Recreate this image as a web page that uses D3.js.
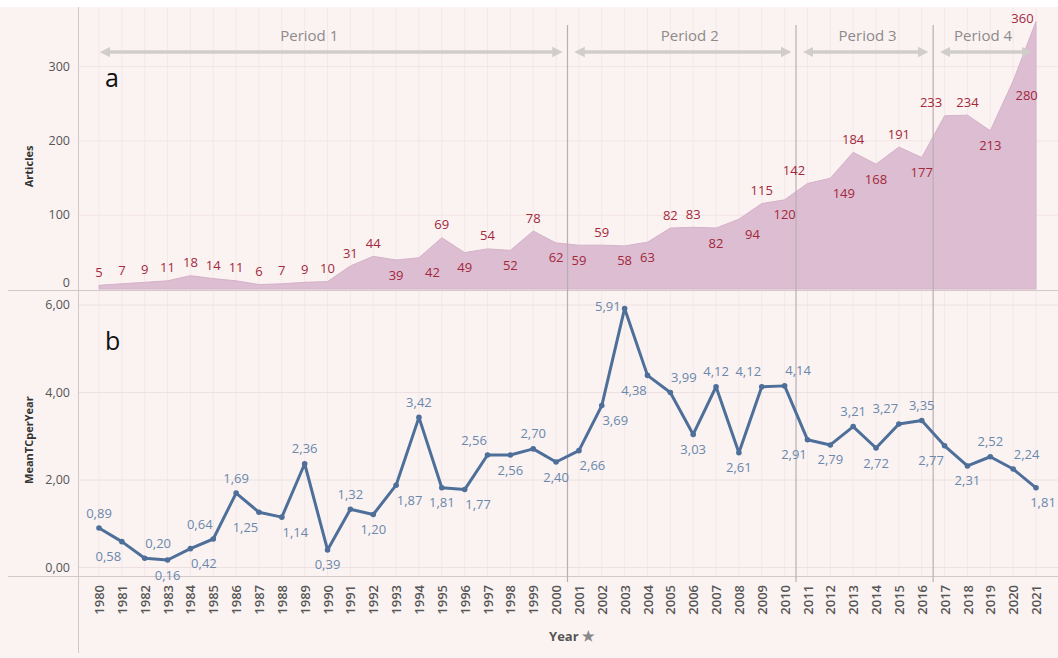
<!DOCTYPE html>
<html>
<head>
<meta charset="utf-8">
<script src="https://cdn.jsdelivr.net/npm/d3@7"></script>
<style>
  html, body { margin: 0; padding: 0; background: #ffffff; }
  svg { display: block; }
  text { font-family: "Open Sans", "Noto Sans", sans-serif; }
</style>
</head>
<body>
<svg id="chart" width="1058" height="658"></svg>
<script>
// ---------- DATA ----------
const years = d3.range(1980, 2022);
const articles = [5, 7, 9, 11, 18, 14, 11, 6, 7, 9, 10, 31, 44, 39, 42, 69, 49, 54, 52, 78, 62,
  59, 59, 58, 63, 82, 83, 82, 94, 115, 120, 142, 149, 184, 168, 191, 177, 233, 234, 213, 280, 360];
// label placement: A = above, B = below, optional L/R = nudged left/right
const articlesLabelSide = ["A","A","A","A","A","A","A","A","A","A","A","A","A","B","BR","A","B","A","B","A","B",
  "B","A","B","B","A","A","B","BR","A","B","AL","BR","A","B","A","B","AL","A","B","BR","AL"];
const meanTC = [0.89, 0.58, 0.20, 0.16, 0.42, 0.64, 1.69, 1.25, 1.14, 2.36, 0.39, 1.32, 1.20, 1.87, 3.42, 1.81, 1.77, 2.56, 2.56, 2.70, 2.40,
  2.66, 3.69, 5.91, 4.38, 3.99, 3.03, 4.12, 2.61, 4.12, 4.14, 2.91, 2.79, 3.21, 2.72, 3.27, 3.35, 2.77, 2.31, 2.52, 2.24, 1.81];
const meanTCLabelSide = ["A","BL","AR","B","BR","AL","A","BL","BR","A","B","A","B","BR","A","B","BR","AL","B","A","B",
  "BR","BR","L","BL","AR","B","A","B","AL","AR","BL","B","A","B","AL","A","BL","B","A","AR","BR"];
const articlesTicks = [0, 100, 200, 300];
const meanTCTicks = [0, 2, 4, 6];
const periods = ["Period 1", "Period 2", "Period 3", "Period 4"];
const periodStarts = [1980, 2001, 2011, 2017];
const periodEnds = [2000, 2010, 2016, 2021];

// ---------- LAYOUT ----------
const svg = d3.select("#chart");
const W = 1058, H = 658;
const bg = "#FBF3F2";
const comma = d3.formatLocale({decimal: ",", thousands: ".", grouping: [3], currency: ["", ""]}).format(".2f");
const nudge = 13.5;
const periodLabelDx = [-21, 8, 3, -2];

svg.append("rect").attr("x", 0).attr("y", 7).attr("width", W).attr("height", H - 7).attr("fill", bg);

const x = d3.scalePoint().domain(years).range([99, 1036]);
const step = x.step();
const yTop = d3.scaleLinear().domain([0, 360]).range([289, 21.5]);
const yBot = d3.scaleLinear().domain([0, 6]).range([567, 304.5]);

function dxOf(side) {
  if (side.length === 2) return side[1] === "L" ? -nudge : nudge;
  return 0;
}

// vertical faint gridlines per year
svg.append("g").selectAll("line").data(years).join("line")
  .attr("x1", d => x(d)).attr("x2", d => x(d))
  .attr("y1", 7).attr("y2", 578)
  .attr("stroke", "#F4E7E7").attr("stroke-width", 1);

// horizontal faint gridlines
svg.append("g").selectAll("line").data(articlesTicks.slice(1)).join("line")
  .attr("x1", 79).attr("x2", W).attr("y1", d => yTop(d) + 0.5).attr("y2", d => yTop(d) + 0.5)
  .attr("stroke", "#F1E4E4");
svg.append("g").selectAll("line").data(meanTCTicks).join("line")
  .attr("x1", 79).attr("x2", W).attr("y1", d => yBot(d) + 0.5).attr("y2", d => yBot(d) + 0.5)
  .attr("stroke", "#EDE0E0");

// ---------- PANEL A: area ----------
const area = d3.area()
  .x((d, i) => x(years[i]))
  .y0(yTop(0))
  .y1(d => yTop(d));
svg.append("path").datum(articles).attr("d", area)
  .attr("fill", "#DCBDD2").attr("stroke", "#D5B2C9").attr("stroke-width", 1);

// Panel separators & axis lines
svg.append("line").attr("x1", 8).attr("x2", W).attr("y1", 290.5).attr("y2", 290.5).attr("stroke", "#D3C8C8");
svg.append("line").attr("x1", 8).attr("x2", W).attr("y1", 576.5).attr("y2", 576.5).attr("stroke", "#D3C8C8");
svg.append("line").attr("x1", 78.5).attr("x2", 78.5).attr("y1", 7).attr("y2", 653).attr("stroke", "#D3C8C8");

// period divider lines
const dividers = periodStarts.slice(1).map(y => x(y) - step / 2);
svg.append("g").selectAll("line").data(dividers).join("line")
  .attr("x1", d => d).attr("x2", d => d).attr("y1", 25).attr("y2", 582)
  .attr("stroke", "#B9AFB2").attr("stroke-width", 1.2);

// period arrows & labels
const defs = svg.append("defs");
["s", "e"].forEach(k => {
  defs.append("marker").attr("id", "ah" + k)
    .attr("viewBox", "0 0 10 10").attr("refX", 5).attr("refY", 5)
    .attr("markerWidth", 3).attr("markerHeight", 3.2).attr("markerUnits", "strokeWidth")
    .attr("orient", k === "s" ? "auto-start-reverse" : "auto")
    .append("path").attr("d", "M0,0 L10,5 L0,10 Z").attr("fill", "#D2CDCD");
});
periods.forEach((p, i) => {
  const left = i === 0 ? x(periodStarts[0]) - 6 : x(periodStarts[i]) - step / 2;
  const right = i === periods.length - 1 ? x(periodEnds[i]) + 1 : x(periodEnds[i]) + step / 2;
  const x1 = left + 12, x2 = right - 10;
  svg.append("line").attr("x1", x1).attr("x2", x2).attr("y1", 52).attr("y2", 52)
    .attr("stroke", "#D2CDCD").attr("stroke-width", 3.5)
    .attr("marker-start", "url(#ahs)").attr("marker-end", "url(#ahe)");
  svg.append("text").attr("x", (left + right) / 2 + periodLabelDx[i]).attr("y", 41)
    .attr("text-anchor", "middle").attr("font-size", 15).attr("fill", "#8E8A8A").text(p);
});

// Panel A labels
svg.append("g").selectAll("text").data(articles).join("text")
  .attr("x", (d, i) => x(years[i]) + dxOf(articlesLabelSide[i]))
  .attr("y", (d, i) => articlesLabelSide[i][0] === "A" ? Math.max(yTop(d) - 13, 18) : yTop(d) + 15)
  .attr("dy", "0.35em")
  .attr("text-anchor", "middle").attr("font-size", 13).attr("fill", "#A3283A")
  .text(d => d);

// ---------- PANEL B: line ----------
const line = d3.line().x((d, i) => x(years[i])).y(d => yBot(d));
svg.append("path").datum(meanTC).attr("d", line)
  .attr("fill", "none").attr("stroke", "#4D6F99").attr("stroke-width", 3).attr("stroke-linejoin", "round");
svg.append("g").selectAll("circle").data(meanTC).join("circle")
  .attr("cx", (d, i) => x(years[i])).attr("cy", d => yBot(d)).attr("r", 2.8).attr("fill", "#4D6F99");
svg.append("g").selectAll("text").data(meanTC).join("text")
  .attr("x", (d, i) => meanTCLabelSide[i] === "L" ? x(years[i]) - 4 : Math.min(x(years[i]) + dxOf(meanTCLabelSide[i]), W - 15))
  .attr("y", (d, i) => {
    const s = meanTCLabelSide[i];
    if (s === "L") return yBot(d) - 2;
    return s[0] === "A" ? yBot(d) - 15 : yBot(d) + 15;
  })
  .attr("dy", "0.35em")
  .attr("text-anchor", (d, i) => meanTCLabelSide[i] === "L" ? "end" : "middle")
  .attr("font-size", 13).attr("fill", "#6A88AC")
  .text(d => comma(d));

// ---------- AXES ----------
const axTop = svg.append("g").attr("transform", "translate(70,0)")
  .call(d3.axisLeft(yTop).tickValues(articlesTicks).tickSize(0).tickPadding(0));
axTop.select(".domain").remove();
axTop.selectAll("text").attr("font-size", 12.5).attr("fill", "#555")
  .attr("font-family", "Open Sans, sans-serif")
  .attr("dy", d => d === 0 ? "-0.2em" : "0.32em");

const axBot = svg.append("g").attr("transform", "translate(70,0)")
  .call(d3.axisLeft(yBot).tickValues(meanTCTicks).tickSize(0).tickPadding(0).tickFormat(d => comma(d)));
axBot.select(".domain").remove();
axBot.selectAll("text").attr("font-size", 12.5).attr("fill", "#555")
  .attr("font-family", "Open Sans, sans-serif");

const axX = svg.append("g").attr("transform", "translate(0,585)")
  .call(d3.axisBottom(x).tickSize(0).tickPadding(0));
axX.select(".domain").remove();
axX.selectAll("text")
  .attr("transform", "rotate(-90)")
  .attr("text-anchor", "end").attr("x", 0).attr("y", 0).attr("dy", "0.35em")
  .attr("font-size", 13).attr("font-weight", 600).attr("fill", "#555")
  .attr("font-family", "Open Sans, sans-serif");

// axis titles
svg.append("text").attr("transform", `translate(33,${yTop(165)}) rotate(-90)`)
  .attr("text-anchor", "middle").attr("font-size", 11).attr("font-weight", 700).attr("fill", "#333").text("Articles");
svg.append("text").attr("transform", `translate(33,${yBot(2.9)}) rotate(-90)`)
  .attr("text-anchor", "middle").attr("font-size", 11).attr("font-weight", 700).attr("fill", "#333").text("MeanTCperYear");
const xt = svg.append("text").attr("x", 572).attr("y", 641).attr("text-anchor", "middle")
  .attr("font-size", 13).attr("font-weight", 700).attr("fill", "#555");
xt.append("tspan").text("Year ");
xt.append("tspan").attr("fill", "#888").attr("font-size", 14).text("★");

// panel letters
svg.append("text").attr("x", 105).attr("y", 87).attr("font-size", 25).attr("fill", "#111").text("a");
svg.append("text").attr("x", 105).attr("y", 350).attr("font-size", 25).attr("fill", "#111").text("b");
</script>
</body>
</html>
